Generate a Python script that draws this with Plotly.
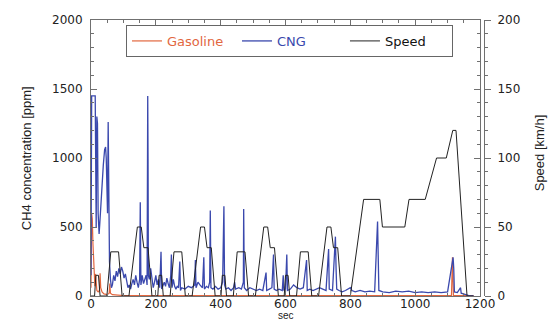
import plotly.graph_objects as go

# ---- data ----
speed_t = [0, 11, 15, 23, 28, 49, 61, 85, 96, 117, 143, 155, 163, 176, 188, 195,
           206, 210, 218, 223, 244, 256, 280, 291, 312, 338, 350, 358, 371, 383, 390,
           401, 405, 413, 418, 439, 451, 475, 486, 507, 533, 545, 553, 566, 578, 585,
           596, 600, 608, 613, 634, 646, 670, 681, 702, 728, 740, 748, 761, 773, 780,
           800, 841, 891, 899, 968, 981, 1031, 1066, 1096, 1116, 1126, 1160, 1180]
speed_v = [0, 0, 15, 15, 0, 0, 32, 32, 0, 0, 50, 50, 35, 35, 0, 0,
           0, 15, 15, 0, 0, 32, 32, 0, 0, 50, 50, 35, 35, 0, 0,
           0, 15, 15, 0, 0, 32, 32, 0, 0, 50, 50, 35, 35, 0, 0,
           0, 15, 15, 0, 0, 32, 32, 0, 0, 50, 50, 35, 35, 0, 0,
           0, 70, 70, 50, 50, 70, 70, 100, 100, 120, 120, 0, 0]

gas_t = [0, 2, 4, 6, 8, 10, 12, 14, 16, 18, 22, 26, 28, 30, 34, 40, 50, 56, 58, 60,
         66, 80, 100, 200, 400, 600, 800, 1000, 1112, 1115, 1118, 1180]
gas_v = [60, 600, 560, 380, 220, 120, 70, 160, 60, 40, 30, 40, 165, 60, 30, 15, 10, 20, 90, 20,
         10, 5, 3, 2, 2, 2, 2, 2, 2, 280, 2, 2]

cng_t = [0, 2, 13, 14, 16, 18, 20, 22, 25, 27, 30, 34, 38, 42, 45, 47, 49, 51, 53, 55,
         57, 60, 63, 66, 70, 74, 78, 82, 86, 90, 94, 98, 102, 106, 110, 114, 118, 122, 126, 130,
         134, 138, 142, 146, 150, 152, 154, 158, 162, 166, 170, 173, 175, 176, 177, 180, 184, 188, 192, 196,
         200, 204, 208, 212, 216, 218, 222, 226, 230, 234, 238, 242, 246, 248, 250, 254, 258, 262, 266, 270,
         274, 276, 280, 290, 300, 310, 320, 322, 324, 330, 336, 344, 348, 350, 356, 362, 366, 368, 370, 376,
         384, 392, 400, 406, 410, 412, 416, 424, 432, 440, 443, 446, 456, 464, 470, 471, 473, 480, 490, 500,
         510, 520, 530, 540, 542, 550, 558, 563, 565, 572, 580, 590, 593, 595, 600, 604, 606, 615, 625, 635,
         645, 655, 665, 667, 675, 685, 695, 705, 715, 725, 733, 735, 745, 754, 756, 758, 765, 775, 785, 795,
         800, 805, 815, 830, 845, 860, 875, 884, 886, 888, 900, 920, 940, 960, 980, 1000, 1020, 1040, 1060, 1080,
         1100, 1117, 1119, 1121, 1130, 1140, 1142, 1150, 1160, 1170, 1180]
cng_v = [150, 1450, 1450, 700, 500, 1300, 1250, 600, 450, 520, 650, 820, 950, 1060, 1080, 1000, 650, 600, 1260, 450,
         250, 120, 60, 80, 150, 110, 180, 140, 200, 160, 210, 180, 130, 160, 100, 60, 80, 50, 90, 120,
         80, 150, 100, 60, 120, 680, 80, 150, 90, 120, 150, 80, 1450, 1000, 150, 120, 200, 110, 60, 100,
         150, 80, 120, 60, 320, 50, 80, 100, 70, 130, 90, 60, 150, 300, 60, 120, 70, 50, 70, 60,
         250, 40, 60, 50, 70, 60, 80, 260, 60, 100, 80, 60, 280, 50, 70, 60, 100, 620, 60, 50,
         70, 50, 60, 100, 650, 80, 50, 60, 40, 60, 100, 50, 60, 50, 100, 630, 60, 40, 60, 50,
         40, 50, 40, 170, 40, 50, 60, 300, 50, 40, 50, 40, 150, 40, 50, 300, 40, 50, 80, 60,
         50, 60, 260, 40, 50, 40, 50, 60, 50, 40, 340, 50, 40, 430, 200, 50, 40, 30, 40, 50,
         60, 40, 30, 40, 30, 35, 30, 540, 300, 40, 30, 25, 35, 30, 35, 25, 30, 25, 30, 25,
         30, 280, 200, 30, 25, 60, 20, 15, 5, 0, 0]

GAS_COLOR = "#e2673f"
CNG_COLOR = "#3a48ad"
AXIS_COLOR = "#707070"
TICK_FONT = dict(family="DejaVu Sans", size=12, color="#222222")

fig = go.Figure()
fig.add_trace(go.Scatter(x=gas_t, y=gas_v, mode="lines",
                         line=dict(color=GAS_COLOR, width=1.2), legendwidth=65,
                         name=f'<span style="color:{GAS_COLOR}">Gasoline</span>'))
fig.add_trace(go.Scatter(x=cng_t, y=cng_v, mode="lines",
                         line=dict(color=CNG_COLOR, width=1.3), legendwidth=63,
                         name=f'<span style="color:{CNG_COLOR}">CNG</span>'))
fig.add_trace(go.Scatter(x=speed_t, y=speed_v, mode="lines", yaxis="y2",
                         line=dict(color="#222222", width=1), legendwidth=62,
                         name="Speed"))

fig.update_layout(
    width=557, height=320,
    margin=dict(l=91, r=73, t=20, b=24),
    paper_bgcolor="white", plot_bgcolor="white",
    showlegend=True,
    legend=dict(orientation="h", x=0.089, y=0.982, xanchor="left", yanchor="top",
                bgcolor="white", bordercolor="#666666", borderwidth=1,
                font=dict(family="DejaVu Sans", size=13, color="#111111"),
                itemwidth=30),
    xaxis=dict(range=[0, 1200], domain=[0, 389/393], dtick=200, tick0=0, automargin=False,
               showgrid=False, zeroline=False, showline=True, linecolor=AXIS_COLOR, linewidth=1,
               mirror="ticks", ticks="inside", ticklen=6, tickcolor=AXIS_COLOR,
               minor=dict(dtick=50, ticks="inside", ticklen=3, tickcolor=AXIS_COLOR),
               tickfont=TICK_FONT, ticklabelstandoff=-3),
    yaxis=dict(range=[0, 2000], dtick=500, tick0=0, automargin=False,
               showgrid=False, zeroline=False, showline=True, linecolor=AXIS_COLOR, linewidth=1,
               mirror="ticks", ticks="inside", ticklen=6, tickcolor=AXIS_COLOR,
               minor=dict(dtick=100, ticks="inside", ticklen=3, tickcolor=AXIS_COLOR),
               tickfont=TICK_FONT, ticklabelstandoff=5),
    yaxis2=dict(range=[0, 200], dtick=50, tick0=0, overlaying="y", side="right",
                anchor="free", position=1.0, automargin=False,
                showgrid=False, zeroline=False, showline=True, linecolor=AXIS_COLOR, linewidth=1,
                ticks="outside", ticklen=6, tickcolor=AXIS_COLOR,
                minor=dict(dtick=10, ticks="outside", ticklen=3, tickcolor=AXIS_COLOR),
                tickfont=TICK_FONT, ticklabelstandoff=4),
    annotations=[
        dict(text="sec", xref="x domain", yref="paper", x=0.5, y=-0.072,
             xanchor="center", yanchor="middle", showarrow=False,
             font=dict(family="Liberation Sans", size=10, color="#222222")),
        dict(text="CH4 concentration [ppm]", xref="paper", yref="paper", x=-0.165, y=0.5,
             xanchor="center", yanchor="middle", textangle=-90, showarrow=False,
             font=dict(family="Liberation Sans", size=13, color="#222222")),
        dict(text="Speed [km/h]", xref="paper", yref="paper", x=1.142, y=0.52,
             xanchor="center", yanchor="middle", textangle=-90, showarrow=False,
             font=dict(family="Liberation Sans", size=13, color="#222222")),
    ],
)

fig.write_html("out.html")
